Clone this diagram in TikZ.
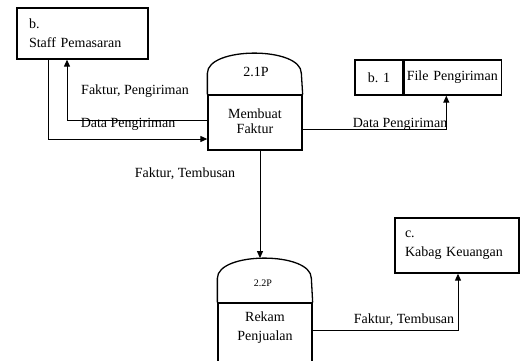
\documentclass[tikz,border=0pt]{standalone}
\usepackage{fontspec}
\setmainfont{Liberation Serif}
\usetikzlibrary{arrows.meta,positioning}

\tikzset{
  entitas/.style={draw,line width=1.3pt,minimum width=131pt,minimum height=51pt,
    text width=107pt,align=left,inner sep=0pt,font=\fontsize{14}{19}\selectfont},
  simpan/.style={draw,line width=1.3pt,minimum height=35pt,inner sep=0pt,
    font=\fontsize{14}{16}\selectfont},
  proses/.style={draw,line width=1.3pt,minimum width=94pt,minimum height=55pt,inner sep=0pt},
  kubah/.style={line width=1.3pt},
  arus/.style={line width=1pt,-{Triangle[length=7pt,width=6pt]}},
  ket/.style={font=\fontsize{14}{16}\selectfont,inner sep=0pt}
}

\begin{document}
\begin{tikzpicture}[x=1pt,y=-1pt]
  \useasboundingbox (0,0) rectangle (530,360);
  \clip (0,0) rectangle (530,360);
  %External entities
  \node[entitas] (staff) at (82.5,33.5) {b.\\Staff Pemasaran};
  \node[entitas,minimum width=124pt,minimum height=55pt,text width=104pt] (kabag) at (457,245.5) {c.\\Kabag Keuangan};

  %Data store
  \node[simpan,minimum width=48pt] (fileid) at (379,77.5) {b. 1};
  \node[simpan,minimum width=97pt,text width=92pt,align=left,right=0pt of fileid] (filename) {File Pengiriman};

  %Process 2.1P
  \node[proses] (membuat) at (255,122.5) {};
  \draw[kubah] (membuat.north west) -- ++(0,-21) .. controls +(0,-27) and +(0,-27) .. ++(94,0) -- (membuat.north east);
  \node[ket] (p21) at (256,72) {2.1P};
  \node[ket,align=center,font=\fontsize{14}{15}\selectfont] (membuattxt) at (255,121) {Membuat\\Faktur};

  %Process 2.2P
  \node[proses,minimum height=70pt] (rekam) at (265,338) {};
  \draw[kubah] (rekam.north west) -- ++(0,-24) .. controls +(0,-27) and +(0,-27) .. ++(94,0) coordinate[pos=0.5] (rekamtop) -- (rekam.north east);
  \node[ket,font=\fontsize{10}{12}\selectfont] (p22) at (263,283) {2.2P};
  \node[ket,align=center,font=\fontsize{14}{19}\selectfont] (rekamtxt) at (265,328) {Rekam\\Penjualan};

  %Data flows
  \draw[arus] ([xshift=-34.5pt]staff.south) |- ([yshift=-16.5pt]membuat.west);
  \draw[arus] ([yshift=2.5pt]membuat.west) -| ([xshift=-15.5pt]staff.south);
  \draw[arus] ([yshift=-6.5pt]membuat.east) -| ([xshift=-6.5pt]filename.south);
  \draw[arus] ([xshift=5pt]membuat.south) -- ([xshift=5pt]membuat.south |- rekamtop);
  \draw[arus] ([yshift=8pt]rekam.east) -| ([xshift=1pt]kabag.south);

  %Flow labels
  \node[ket] (lblfaktur) at (135,91) {Faktur, Pengiriman};
  \node[ket] (lbldata) at (128,124) {Data Pengiriman};
  \node[ket] (lbldata2) at (400,124) {Data Pengiriman};
  \node[ket] (lbltembusan) at (185,174) {Faktur, Tembusan};
  \node[ket] (lbltembusan2) at (404,320) {Faktur, Tembusan};
\end{tikzpicture}
\end{document}
